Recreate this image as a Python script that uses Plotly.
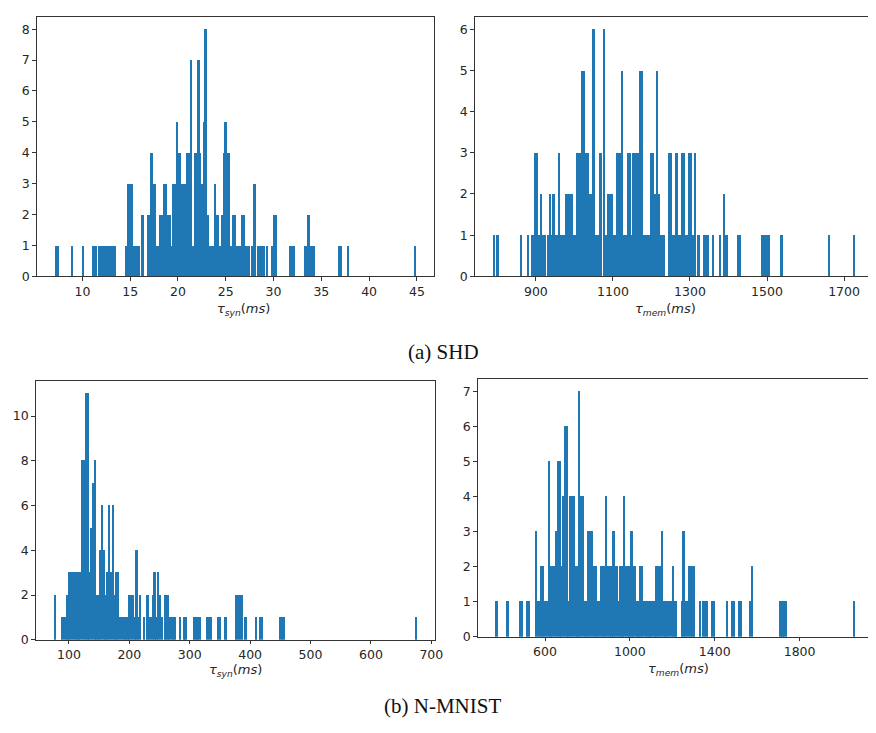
import numpy as np
import plotly.graph_objects as go

# ---------------- data ----------------
# Each histogram: 200 bins between lo and hi; runs = (from value, to value, count)
shd_syn_range = (7.1, 44.9)
shd_syn_runs = [
    (7.05, 7.45, 1), (8.98, 8.98, 1), (9.94, 9.94, 1), (11.2, 11.4, 1), (11.7, 11.8, 1),
    (11.9, 12.1, 1), (12.35, 12.56, 1), (12.7, 13.3, 1), (13.5, 13.5, 1), (14.5, 14.5, 1),
    (14.8, 15.2, 3), (15.3, 15.3, 2), (15.4, 15.9, 1), (16.2, 16.2, 2), (16.8, 17.15, 2),
    (17.25, 17.25, 4), (17.35, 17.45, 3), (17.5, 17.6, 2), (17.65, 17.65, 3), (17.75, 18.05, 1),
    (18.1, 18.45, 2), (18.6, 18.75, 3), (18.9, 19.2, 2), (19.3, 19.45, 1), (19.5, 19.75, 3),
    (19.8, 20.3, 4), (19.95, 19.95, 5), (20.4, 20.4, 1), (20.5, 20.8, 3), (20.9, 20.9, 1),
    (21.0, 21.3, 4), (21.35, 21.55, 7), (21.6, 21.65, 1), (21.7, 22.0, 4), (22.05, 22.2, 7),
    (22.25, 22.5, 4), (22.55, 22.6, 3), (22.65, 22.85, 5), (22.9, 22.95, 8), (23.0, 23.2, 2),
    (23.25, 23.65, 1), (23.8, 23.95, 3), (24.0, 24.4, 2), (24.45, 24.5, 1), (24.55, 24.8, 2),
    (24.85, 24.95, 4), (25.0, 25.1, 5), (25.15, 25.45, 4), (25.55, 25.6, 1), (25.7, 26.1, 2),
    (26.15, 26.55, 1), (26.6, 27.0, 2), (27.1, 27.4, 1), (27.75, 27.75, 1), (28.05, 28.05, 3),
    (28.45, 28.95, 1), (29.3, 29.3, 1), (29.8, 29.95, 1), (30.0, 30.3, 2), (31.7, 31.7, 3),
    (31.8, 32.1, 1), (33.3, 33.6, 1), (33.7, 33.8, 2), (33.85, 34.2, 1), (36.9, 37.1, 1),
    (37.9, 37.9, 1), (44.85, 44.85, 1),
]

shd_mem_range = (788.0, 1728.0)
shd_mem_runs = [
    (788, 788, 1), (799, 799, 1), (860, 860, 1), (879, 879, 1), (887, 897, 1),
    (900, 906, 3), (909, 909, 1), (911, 917, 2), (919, 921, 1), (931, 946, 1),
    (937, 937, 2), (946, 946, 2), (950, 958, 1), (961, 961, 3), (963, 974, 1),
    (976, 984, 2), (986, 986, 4), (990, 995, 2), (998, 1004, 1), (1006, 1020, 3),
    (1022, 1026, 5), (1029, 1029, 3), (1033, 1033, 4), (1036, 1038, 3), (1040, 1045, 2),
    (1048, 1052, 6), (1055, 1062, 1), (1068, 1068, 3), (1079, 1079, 6), (1082, 1085, 1),
    (1087, 1097, 2), (1099, 1106, 1), (1109, 1109, 6), (1112, 1120, 3), (1122, 1126, 5),
    (1128, 1136, 1), (1138, 1143, 3), (1146, 1152, 1), (1154, 1168, 3), (1169, 1169, 5),
    (1175, 1178, 5), (1180, 1198, 1), (1199, 1204, 3), (1207, 1207, 4), (1210, 1212, 2),
    (1215, 1215, 5), (1219, 1222, 2), (1224, 1234, 1), (1245, 1254, 3), (1257, 1262, 1),
    (1264, 1267, 3), (1270, 1276, 1), (1278, 1287, 3), (1290, 1294, 1), (1297, 1303, 3),
    (1306, 1308, 1), (1313, 1313, 3), (1321, 1321, 1), (1334, 1343, 1), (1360, 1360, 1),
    (1380, 1380, 1), (1386, 1390, 2), (1392, 1395, 1), (1426, 1428, 1), (1486, 1503, 1),
    (1539, 1539, 1), (1658, 1658, 1), (1728, 1728, 1),
]

nm_syn_range = (75.0, 676.0)
nm_syn_runs = [
    (75.5, 78, 2), (87.5, 91, 1), (92, 92, 2), (93, 97, 1), (98, 99, 2),
    (100, 108, 3), (109, 109, 7), (111, 114, 3), (115, 115, 4), (117, 121, 3),
    (122, 127, 8), (128, 132, 11), (133, 135, 3), (136, 139, 5), (140, 142, 7),
    (144, 144, 8), (145, 150, 2), (151, 160, 4), (155, 155, 6), (161, 163, 2),
    (164, 172, 3), (167, 167, 6), (173, 173, 6), (175, 177, 2), (178.5, 178.5, 6),
    (180, 184, 3), (185, 198, 1), (199, 201, 2), (203, 206, 2), (208, 211, 1),
    (212, 212, 4), (214, 217, 1), (219, 219, 2), (225, 225, 1), (230, 230, 2),
    (233, 233, 1), (236, 236, 1), (238, 241, 2), (243, 243, 3), (245, 246, 1),
    (248, 248, 3), (250, 250, 2), (253, 253, 1), (260, 264, 2), (265, 276, 1),
    (283, 283, 1), (289, 292, 1), (308, 311, 1), (314, 317, 1), (330, 334, 1),
    (347, 349, 1), (357.5, 357.5, 1), (375.6, 380, 2), (381, 385.5, 2), (392, 392, 1),
    (409.6, 409.6, 1), (415, 419, 1), (450.6, 454.5, 1), (675.5, 675.5, 1),
]

nm_mem_range = (367.0, 2061.0)
nm_mem_runs = [
    (367, 367, 1), (421, 421, 1), (479, 479, 2), (484, 492, 1), (514, 525, 1),
    (561, 561, 3), (564, 584, 1), (586, 598, 2), (600, 611, 1), (613, 617, 2),
    (619, 627, 5), (629, 645, 2), (647, 660, 3), (662, 672, 5), (674, 680, 2),
    (682, 692, 4), (694, 705, 6), (707, 714, 1), (716, 723, 4), (725, 727, 1),
    (729, 743, 4), (745, 759, 2), (761, 770, 7), (772, 785, 4), (787, 804, 1),
    (806, 815, 3), (817, 825, 3), (827, 827, 6), (829, 845, 2), (848, 858, 1),
    (862, 884, 2), (887, 887, 6), (890, 898, 4), (900, 916, 2), (919, 919, 3),
    (922, 928, 3), (930, 940, 2), (945, 952, 1), (955, 970, 2), (972, 982, 4),
    (984, 996, 2), (1004, 1004, 5), (1006, 1016, 3), (1018, 1033, 2), (1035, 1048, 1),
    (1050, 1066, 2), (1070, 1120, 1), (1128, 1145, 2), (1148, 1153, 3), (1163, 1178, 1),
    (1187, 1206, 1), (1200, 1200, 2), (1208, 1217, 1), (1245, 1249, 1), (1251, 1260, 3),
    (1262, 1271, 1), (1280, 1299, 2), (1330, 1330, 1), (1346, 1358, 1), (1385, 1393, 1),
    (1458, 1458, 1), (1478, 1489, 1), (1514, 1521, 1), (1563, 1573, 1), (1576, 1576, 2),
    (1708, 1716, 1), (1727, 1734, 1), (2061, 2061, 1),
]

n_bins = 200

shd_syn_ticks = [10, 15, 20, 25, 30, 35, 40, 45]
shd_mem_ticks = [900, 1100, 1300, 1500, 1700]
nm_syn_ticks = [100, 200, 300, 400, 500, 600, 700]
nm_mem_ticks = [600, 1000, 1400, 1800]

captions = ["(a) SHD", "(b) N-MNIST"]


def binned(rng, runs):
    lo, hi = rng
    w = (hi - lo) / n_bins
    centers = lo + w * (np.arange(n_bins) + 0.5)
    counts = np.zeros(n_bins)
    for a, b, c in runs:
        i0 = int(np.clip(np.floor((a - lo) / w), 0, n_bins - 1))
        i1 = int(np.clip(np.floor((b - lo) / w), 0, n_bins - 1))
        counts[i0:i1 + 1] = c
    return centers, counts, w


W, H = 876, 733
BLUE = "#1f77b4"
AX = "#333333"
TICKFONT = dict(family="DejaVu Sans", size=12.5, color="#262626")

panels = [
    # (range, runs, xticks, ymax, yticks, x domain px, y domain px (top,bottom), cut by right edge?)
    (shd_syn_range, shd_syn_runs, shd_syn_ticks, 8, list(range(0, 9)), (37, 438), (17, 279), False),
    (shd_mem_range, shd_mem_runs, shd_mem_ticks, 6, list(range(0, 7)), (479, 876), (17, 279), True),
    (nm_syn_range, nm_syn_runs, nm_syn_ticks, 11, list(range(0, 11, 2)), (36, 439), (385, 646), False),
    (nm_mem_range, nm_mem_runs, nm_mem_ticks, 7, list(range(0, 8)), (482, 876), (383, 643), True),
]

fig = go.Figure()
layout = {}
for k, (rng, runs, xt, ymax, yt, (xl, xr), (yt_px, yb_px), cut) in enumerate(panels, start=1):
    centers, counts, w = binned(rng, runs)
    xa = "x" if k == 1 else f"x{k}"
    ya = "y" if k == 1 else f"y{k}"
    fig.add_trace(go.Bar(x=centers, y=counts, width=w, marker=dict(color=BLUE, line=dict(width=0)),
                         xaxis=xa, yaxis=ya, showlegend=False, hoverinfo="skip"))
    span = rng[1] - rng[0]
    x0 = rng[0] - 0.05 * span
    x1 = rng[1] + 0.05 * span
    if cut:
        # the frame is cut by the picture's right edge (~5 px hidden)
        frac = (xr - xl) / (xr - xl + 5)
        x1 = x0 + (x1 - x0) * frac
    key_x = "xaxis" if k == 1 else f"xaxis{k}"
    key_y = "yaxis" if k == 1 else f"yaxis{k}"
    layout[key_x] = dict(
        domain=[xl / W, xr / W], anchor=ya, range=[x0, x1], tickvals=xt,
        showline=True, linecolor=AX, linewidth=1, mirror=True,
        ticks="outside", ticklen=3.5, tickcolor=AX, tickfont=TICKFONT,
        showgrid=False, zeroline=False, fixedrange=True,
    )
    layout[key_y] = dict(
        domain=[1 - yb_px / H, 1 - yt_px / H], anchor=xa, range=[0, ymax * 1.05], tickvals=yt,
        showline=True, linecolor=AX, linewidth=1, mirror=not cut,
        ticks="outside", ticklen=3.5, tickcolor=AX, tickfont=TICKFONT,
        showgrid=False, zeroline=False, fixedrange=True,
    )

annots = []
lab_font = dict(family="DejaVu Sans", size=13, color="#262626")
syn = "<i>τ</i><sub><i>syn</i></sub>(<i>ms</i>)"
mem = "<i>τ</i><sub><i>mem</i></sub>(<i>ms</i>)"
for txt, px, py in [(syn, 246, 312), (mem, 672, 312), (syn, 238, 677), (mem, 685, 676)]:
    annots.append(dict(text=txt, x=px / W, y=1 - py / H, xref="paper", yref="paper",
                       showarrow=False, xanchor="center", yanchor="middle", font=lab_font))
cap_font = dict(family="Liberation Serif", size=21, color="#111111")
for txt, px, py in [(captions[0], 448, 355), (captions[1], 447, 713)]:
    annots.append(dict(text=txt, x=px / W, y=1 - py / H, xref="paper", yref="paper",
                       showarrow=False, xanchor="center", yanchor="middle", font=cap_font))

fig.update_layout(
    width=W, height=H, margin=dict(l=0, r=0, t=0, b=0),
    paper_bgcolor="white", plot_bgcolor="white", bargap=0,
    annotations=annots, **layout,
)
fig.write_html("out.html", config={"displayModeBar": False})
